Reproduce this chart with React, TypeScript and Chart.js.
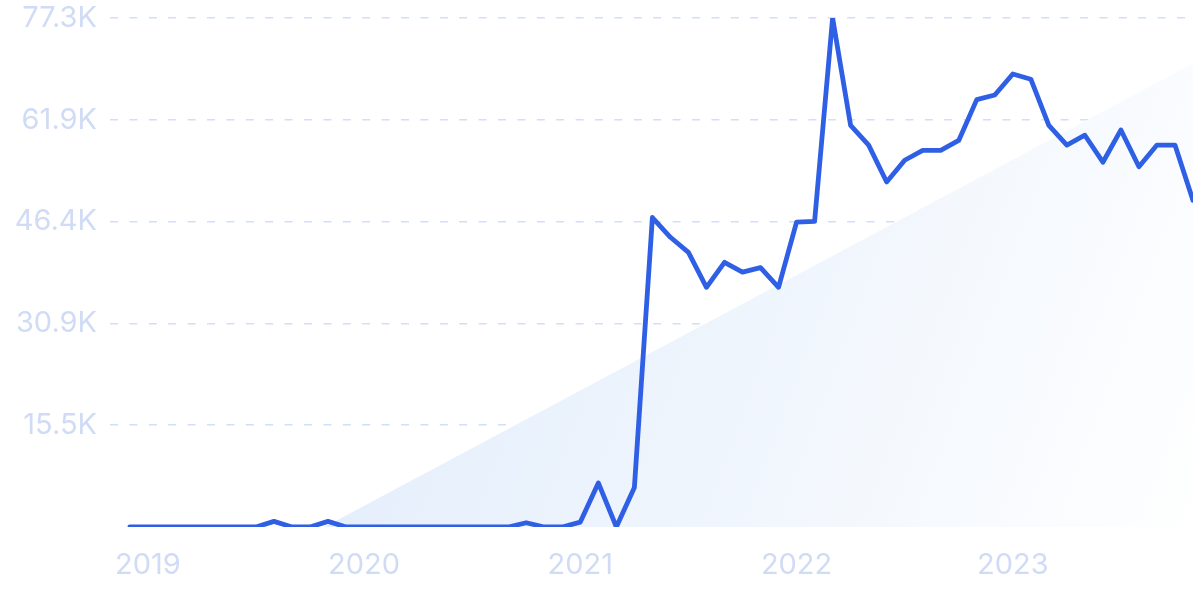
import React, { useEffect, useRef } from "react";
import { Chart, registerables } from "chart.js";

Chart.register(...registerables);

// Monthly values (index 0 = Dec 2018 ... index 59 = Nov 2023)
const values: number[] = [
  0, 0, 0, 0, 0, 0, 0, 0, 850, 0,
  0, 850, 0, 0, 0, 0, 0, 0, 0, 0,
  0, 0, 650, 0, 0, 750, 6700, 0, 6000, 47000,
  44000, 41700, 36400, 40200, 38700, 39400, 36400, 46300, 46400, 77300,
  61000, 58000, 52400, 55700, 57200, 57200, 58700, 64900, 65600, 68800,
  68000, 61000, 58000, 59500, 55400, 60300, 54700, 58000, 58000, 49600,
];

const yearLabels: string[] = ["2019", "2020", "2021", "2022", "2023"];
const yearTickIndex: number[] = [1, 13, 25, 37, 49];
const yTicks: number[] = [0, 15460, 30920, 46380, 61840, 77300];
const yTickLabels: string[] = ["", "15.5K", "30.9K", "46.4K", "61.9K", "77.3K"];

// Background trend wedge: start and end (month index, value)
const wedgeX: number[] = [10.8, 59];
const wedgeY: number[] = [0, 70400];

export default function App() {
  const ref = useRef<HTMLCanvasElement | null>(null);

  useEffect(() => {
    document.body.style.margin = "0";
    const canvas = ref.current!;
    const labelColor = "#d0dbf5";
    const font = { family: "Inter, 'Open Sans', sans-serif", size: 29 };

    const chart = new Chart(canvas, {
      type: "line",
      data: {
        datasets: [
          {
            data: values.map((v, i) => ({ x: i, y: v })),
            borderColor: "#2f5fe4",
            borderWidth: 4.8,
            pointRadius: 0,
            tension: 0,
            fill: false,
            borderCapStyle: "round",
            borderJoinStyle: "round",
          },
          {
            data: wedgeX.map((x, i) => ({ x, y: wedgeY[i] })),
            borderWidth: 0,
            borderColor: "rgba(0,0,0,0)",
            pointRadius: 0,
            tension: 0,
            fill: "origin",
            backgroundColor: (ctx: any) => {
              const c = ctx.chart;
              const area = c.chartArea;
              if (!area) return "#eaf2fd";
              const g = c.ctx.createLinearGradient(area.left + 220, area.top + 250, area.right, area.bottom + 60);
              g.addColorStop(0, "#e2edfb");
              g.addColorStop(1, "#ffffff");
              return g;
            },
          },
        ],
      },
      options: {
        animation: false,
        responsive: false,
        maintainAspectRatio: false,
        layout: { padding: { top: 0, right: 7, left: 0, bottom: 0 } },
        plugins: { legend: { display: false }, tooltip: { enabled: false } },
        scales: {
          x: {
            type: "linear",
            min: -1.1,
            max: 59,
            afterBuildTicks: (scale: any) => {
              scale.ticks = yearTickIndex.map((v) => ({ value: v }));
            },
            afterFit: (scale: any) => {
              scale.height = 72;
            },
            grid: { display: false, drawTicks: false },
            border: { display: false },
            ticks: {
              autoSkip: false,
              maxRotation: 0,
              padding: 21,
              color: labelColor,
              font,
              callback: (v: any) => {
                const k = yearTickIndex.indexOf(Number(v));
                return k >= 0 ? yearLabels[k] : "";
              },
            },
          },
          y: {
            min: 0,
            max: 77300,
            afterBuildTicks: (scale: any) => {
              scale.ticks = yTicks.map((v) => ({ value: v }));
            },
            afterFit: (scale: any) => {
              scale.width = 110;
              scale.paddingTop = 18;
            },
            grid: {
              drawTicks: false,
              color: (ctx: any) => (ctx.tick && ctx.tick.value === 0 ? "rgba(0,0,0,0)" : "#cfdffc"),
              lineWidth: 1.5,
            },
            border: { display: false, dash: [8, 11.4] },
            ticks: {
              padding: 13,
              color: labelColor,
              font,
              callback: (v: any) => {
                const k = yTicks.indexOf(Number(v));
                return k >= 0 ? yTickLabels[k] : "";
              },
            },
          },
        },
      } as any,
    });
    return () => chart.destroy();
  }, []);

  return (
    <div style={{ position: "relative", width: 1200, height: 599, background: "#ffffff" }}>
      <canvas ref={ref} width={1200} height={599} style={{ display: "block", width: 1200, height: 599 }} />
    </div>
  );
}
